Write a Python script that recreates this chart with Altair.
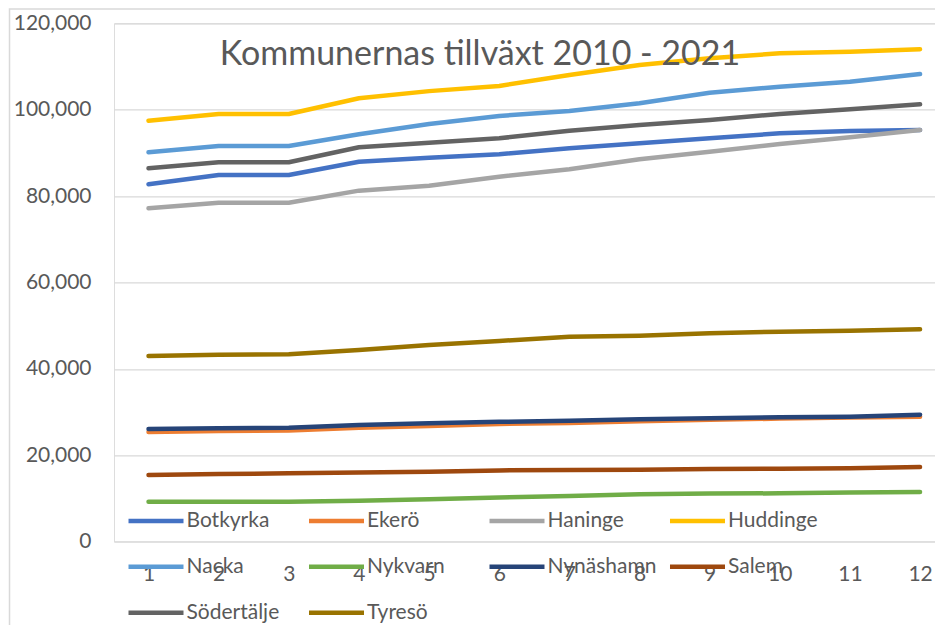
import altair as alt
import pandas as pd

years = list(range(1, 13))
kommuner = ["Botkyrka", "Ekerö", "Haninge", "Huddinge", "Nacka",
            "Nykvarn", "Nynäshamn", "Salem", "Södertälje", "Tyresö"]
colors = ["#4472C4", "#ED7D31", "#A5A5A5", "#FFC000", "#5B9BD5",
          "#70AD47", "#264478", "#9E480E", "#636363", "#997300"]

botkyrka = [82730, 84890, 84890, 87970, 88900, 89680, 91070, 92230, 93380, 94540, 95080, 95310]
ekero = [25400, 25600, 25750, 26400, 26800, 27250, 27500, 27900, 28200, 28500, 28750, 28950]
haninge = [77180, 78480, 78480, 81260, 82410, 84500, 86210, 88520, 90290, 92070, 93620, 95310]
huddinge = [97460, 99010, 99010, 102650, 104300, 105500, 108040, 110360, 111900, 113060, 113440, 114000]
nacka = [90140, 91600, 91600, 94300, 96700, 98550, 99700, 101490, 103940, 105330, 106490, 108270]
nykvarn = [9260, 9260, 9260, 9490, 9800, 10250, 10570, 10970, 11130, 11200, 11360, 11500]
nynashamn = [26090, 26250, 26390, 27010, 27400, 27750, 28010, 28330, 28560, 28800, 28940, 29400]
salem = [15440, 15650, 15830, 16000, 16200, 16500, 16600, 16650, 16830, 16900, 17000, 17290]
sodertalje = [86440, 87830, 87830, 91300, 92370, 93380, 95150, 96460, 97620, 99010, 100100, 101260]
tyreso = [42990, 43290, 43380, 44380, 45540, 46460, 47460, 47690, 48240, 48620, 48850, 49170]

series = [botkyrka, ekero, haninge, huddinge, nacka, nykvarn, nynashamn, salem, sodertalje, tyreso]
y_ticks = [0, 20000, 40000, 60000, 80000, 100000, 120000]
title_text = "Kommunernas tillväxt 2010 - 2021"

rows = []
for name, vals in zip(kommuner, series):
    for yr, v in zip(years, vals):
        rows.append({"kommun": name, "year": yr, "value": v})
df = pd.DataFrame(rows)

W = 821
H = 518.4
FONT = "Lato"
GREY = "#595959"

lines = alt.Chart(df).mark_line(strokeWidth=4.5, strokeCap="round", strokeJoin="round").encode(
    x=alt.X("year:Q",
            scale=alt.Scale(domain=[0.508, 12.213], nice=False, zero=False),
            axis=alt.Axis(values=years, format="d", title=None, grid=False, ticks=False,
                          domain=False, labelFontSize=21, labelFont=FONT, labelColor=GREY,
                          labelPadding=22, labelFlush=False, labelOverlap=False)),
    y=alt.Y("value:Q",
            scale=alt.Scale(domain=[0, 120000], nice=False),
            axis=alt.Axis(values=y_ticks, format=",d", title=None, grid=True,
                          gridColor="#d9d9d9", gridWidth=1.3, ticks=False, domain=False,
                          labelFontSize=21, labelFont=FONT, labelColor=GREY, labelPadding=23)),
    color=alt.Color("kommun:N",
                    scale=alt.Scale(domain=kommuner, range=colors),
                    sort=kommuner,
                    legend=alt.Legend(orient="none", legendX=15, legendY=487, columns=4,
                                      direction="horizontal",
                                      title=None, symbolType="M-5.5,0H5.5", symbolSize=100,
                                      symbolStrokeWidth=4.5, symbolOffset=16.5,
                                      labelFontSize=21, labelFont=FONT, labelColor=GREY,
                                      labelOffset=20, gridAlign="all", columnPadding=3.5,
                                      rowPadding=24, padding=0)),
    order=alt.Order("year:Q"),
)

frame = alt.Chart(pd.DataFrame({"f": [1]})).mark_rect(
    fill="transparent", stroke="#d9d9d9", strokeWidth=1.5
).encode(
    x=alt.value(-104.5), x2=alt.value(W + 60),
    y=alt.value(-14.3), y2=alt.value(H + 200),
)

title = alt.Chart(pd.DataFrame({"t": [title_text]})).mark_text(
    fontSize=34, font=FONT, color=GREY, align="center", baseline="alphabetic"
).encode(
    text="t:N", x=alt.value(366), y=alt.value(41.7),
)

chart = alt.layer(frame, lines, title).properties(
    width=W, height=H,
    autosize=alt.AutoSizeParams(type="none"),
    padding={"left": 106, "top": 15.3, "right": 0, "bottom": 83},
).configure_view(stroke=None).configure(background="white")

chart.save("out.html", embed_options={"renderer": "svg", "actions": False})
